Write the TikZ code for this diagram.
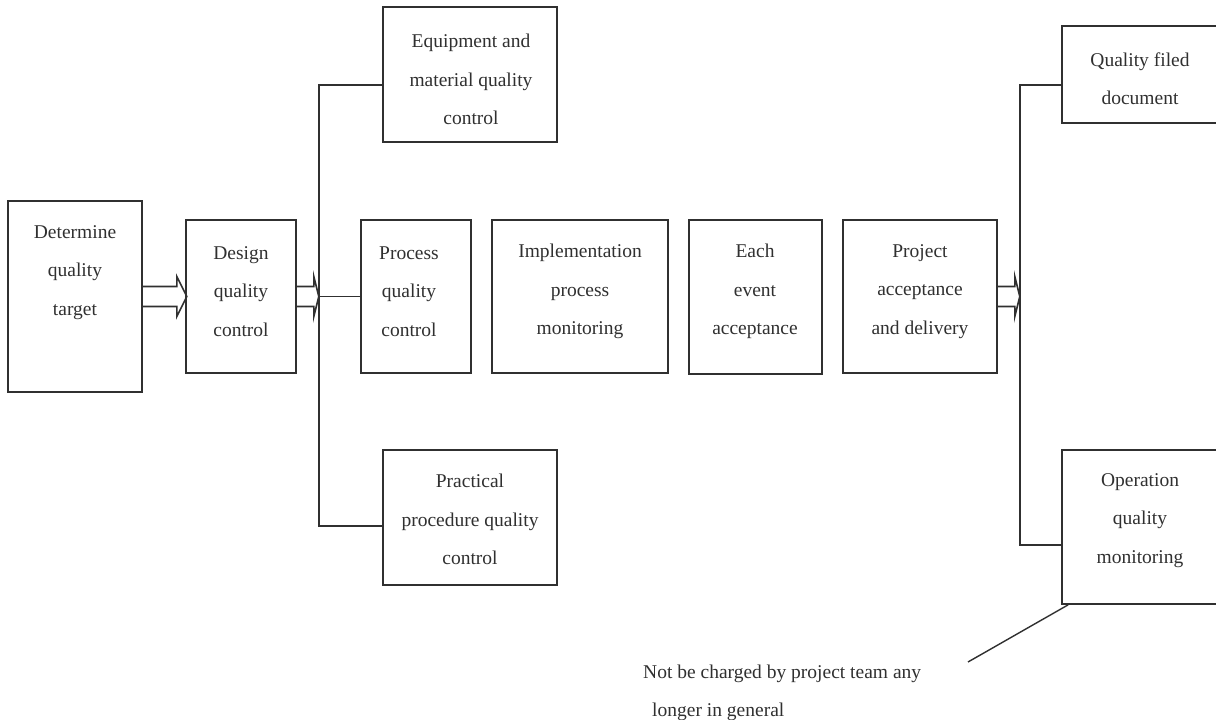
\documentclass[tikz,border=0pt]{standalone}
\usepackage{fontspec}
\setmainfont{Liberation Serif}
\usetikzlibrary{calc}
\definecolor{ink}{HTML}{303030}
\begin{document}
\begin{tikzpicture}[x=1pt,y=-1pt,
  ln/.style={draw=ink,line width=1.6pt,line join=miter},
  blk/.style={draw=ink,line width=1.6pt,inner sep=0pt,fill=none},
  txt/.style={text=ink,inner sep=0pt,align=center,
    font=\fontsize{19.5pt}{38.5pt}\selectfont},
]
\clip (0,0) rectangle (1216,720);
\useasboundingbox (0,0) rectangle (1216,720);

% boxes
\node[blk,minimum width=134,minimum height=191] (b1) at (75,296.5) {};
\node[blk,minimum width=110,minimum height=153] (b2) at (241,296.5) {};
\node[blk,minimum width=110,minimum height=153] (b3) at (416,296.5) {};
\node[blk,minimum width=176,minimum height=153] (b4) at (580,296.5) {};
\node[blk,minimum width=133,minimum height=154] (b5) at (755.5,297) {};
\node[blk,minimum width=154,minimum height=153] (b6) at (920,296.5) {};
\node[blk,minimum width=174,minimum height=135] (b7) at (470,74.5) {};
\node[blk,minimum width=174,minimum height=135] (b8) at (470,517.5) {};
\node[blk,minimum width=164,minimum height=97]  (b9) at (1144,74.5) {};
\node[blk,minimum width=164,minimum height=154] (b10) at (1144,527) {};

% box texts
\node[txt] (t1) at (75,272.5) {Determine\\quality\\target};
\node[txt] (t2) at (241,291.5) {Design\\quality\\control};
\node[txt] (t3) at (409,291.5) {Process\\quality\\control};
\node[txt] (t4) at (580,291.5) {Implementation\\process\\monitoring};
\node[txt] (t5) at (755,291.5) {Each\\event\\acceptance};
\node[txt] (t6) at (920,291.5) {Project\\acceptance\\and delivery};
\node[txt] (t7) at (471,79.5) {Equipment and\\material quality\\control};
\node[txt] (t8) at (470,519.5) {Practical\\procedure quality\\control};
\node[txt] (t9) at (1140,78.5) {Quality filed\\document};
\node[txt] (t10) at (1140,520.5) {Operation\\quality\\monitoring};

% hollow arrows
\draw[ln] ($(b1.east)+(0,-10)$) -- ++(34,0) -- ++(0,-10) -- ++(10,20)
  -- ++(-10,20) -- ++(0,-10) -- ++(-34,0);
\draw[ln] ($(b2.east)+(0,-10)$) -- ++(17,0) -- ++(0,-10) -- ++(5,20)
  coordinate (j1) -- ++(-5,20) -- ++(0,-10) -- ++(-17,0);
\draw[ln] ($(b6.east)+(0,-10)$) -- ++(17,0) -- ++(0,-10) -- ++(5,20)
  coordinate (j2) -- ++(-5,20) -- ++(0,-10) -- ++(-17,0);

% branch lines
\draw[ln] (j1) -- (b3.west);
\draw[ln] ($(b7.west)+(0,10.5)$) -| (j1) |- ($(b8.west)+(0,8.5)$);
\draw[ln] ($(b9.west)+(0,10.5)$) -| (j2) |- ($(b10.west)+(0,18)$);

% note
\node[txt,align=left,anchor=west] (note) at (643,693)
  {Not be charged by project team any\\\hspace*{9pt}longer in general};
\coordinate (n1) at (968,662);
\draw[ln,line width=1.4pt] ($(b10.south west)+(7,0)$) -- (n1);
\end{tikzpicture}
\end{document}
